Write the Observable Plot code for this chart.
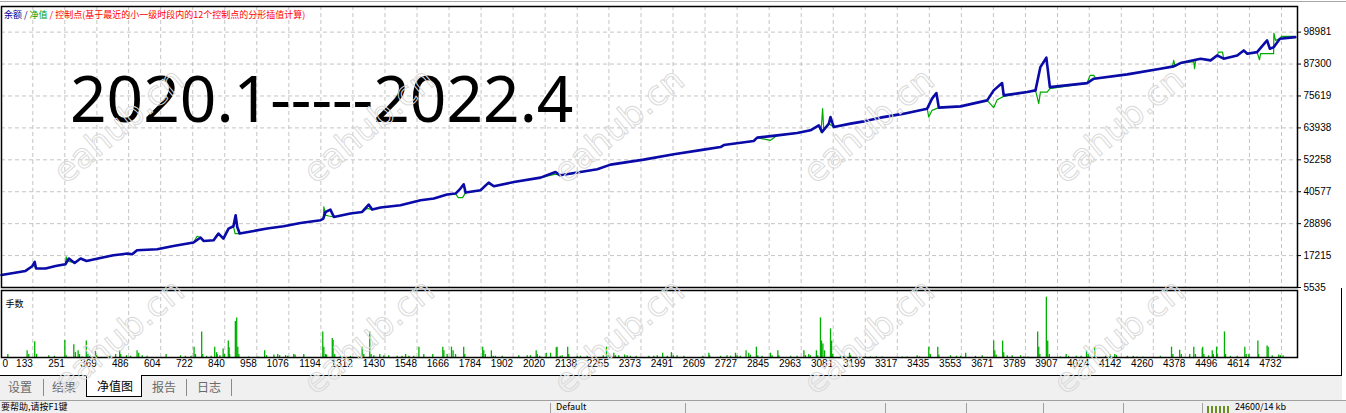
<!DOCTYPE html>
<html><head><meta charset="utf-8">
<script src="https://cdn.jsdelivr.net/npm/d3@7"></script>
<script src="https://cdn.jsdelivr.net/npm/@observablehq/plot@0.6"></script>
<style>
html,body{margin:0;padding:0;background:#fff;width:1346px;height:413px;overflow:hidden;}
#wrap{position:relative;width:1346px;height:413px;font-family:"Liberation Sans",sans-serif;}
.abs{position:absolute;}
#wrap svg{overflow:visible;}
#tabs{left:0;top:375px;width:1342px;height:25px;background:#f0f0f0;border-top:1px solid #000;}
#status{left:0;top:400px;width:1346px;height:13px;background:#f0f0f0;border-top:1px solid #a0a0a0;overflow:hidden;}
.tab{position:absolute;top:2px;font:12px "Noto Sans CJK SC",sans-serif;color:#6a6a6a;line-height:18px;}
.sep{position:absolute;top:3px;width:1px;height:17px;background:#8a8a8a;}
#sel{position:absolute;left:86px;top:-1px;width:54px;height:21px;background:#fff;border:1px solid #000;border-top:none;}
.ssep{position:absolute;top:2px;width:1px;height:11px;background:#a0a0a0;}
.stxt{position:absolute;top:0px;font:9px "Noto Sans CJK SC",sans-serif;color:#000;line-height:12px;white-space:nowrap;}
</style></head>
<body><div id="wrap">
<div id="main" class="abs" style="left:0;top:0"></div>
<div id="lots" class="abs" style="left:0;top:289px"></div>
<div class="abs" style="left:0;top:1px;width:1346px;height:1px;background:#a8a8a8"></div>
<div class="abs" style="left:1341px;top:288px;width:1px;height:88px;background:#000"></div>
<div id="tabs" class="abs">
  <span class="tab" style="left:8px">设置</span>
  <div class="sep" style="left:43px"></div>
  <span class="tab" style="left:52px">结果</span>
  <div id="sel"><span class="tab" style="left:10px;top:2px;color:#000">净值图</span></div>
  <span class="tab" style="left:152px">报告</span>
  <div class="sep" style="left:186px"></div>
  <span class="tab" style="left:197px">日志</span>
  <div class="sep" style="left:231px"></div>
</div>
<div id="status" class="abs">
  <span class="stxt" style="left:1px">要帮助,请按F1键</span>
  <div class="ssep" style="left:550px"></div>
  <span class="stxt" style="left:556px">Default</span>
  <div class="ssep" style="left:685px"></div>
  <div class="ssep" style="left:885px"></div>
  <div class="ssep" style="left:966px"></div>
  <div class="ssep" style="left:1043px"></div>
  <div class="ssep" style="left:1123px"></div>
  <div class="ssep" style="left:1202px"></div>
  <div class="abs" style="left:1207px;top:5px;width:23px;height:8px;background:repeating-linear-gradient(90deg,#6b8e23 0 2px,#f0f0f0 2px 4px)"></div>
  <span class="stxt" style="left:1235px">24600/14 kb</span>
</div>
<svg id="overlay" class="abs" style="left:0;top:0;pointer-events:none" width="1346" height="413"></svg>
</div>
<script>
// ---- tick labels ----
const xTicks = [0,133,251,369,486,604,722,840,958,1076,1194,1312,1430,1548,1666,1784,1902,2020,2138,2255,2373,2491,2609,2727,2845,2963,3081,3199,3317,3435,3553,3671,3789,3907,4024,4142,4260,4378,4496,4614,4732];
const yTicks = [5535,17215,28896,40577,52258,63938,75619,87300,98981];

// ---- balance (余额) ----
const balX = [0,62,106,131,140,145,180,217,253,266,287,309,331,382,430,462,481,499,517,591,651,725,751,762,799,817,835,854,872,880,886,895,947,996,1057,1119,1193,1203,1211,1229,1242,1303,1346,1370,1383,1414,1487,1561,1610,1659,1690,1708,1720,1727,1782,1812,1831,1905,2003,2058,2076,2212,2261,2383,2494,2604,2666,2678,2788,2801,2875,2948,2997,3028,3040,3065,3071,3083,3145,3194,3255,3341,3427,3445,3461,3470,3550,3648,3672,3703,3709,3795,3826,3844,3866,3879,4016,4041,4164,4286,4335,4360,4434,4471,4495,4519,4569,4593,4606,4642,4679,4689,4704,4726,4783];
const balY = [10100,10873,11604,13322,14894,12482,12482,13432,14054,16138,14529,16138,15260,16357,17344,17710,17966,17710,19172,19538,20744,21987,23815,22572,22828,25278,23450,27106,27946,31968,27691,25278,26228,27106,27946,29153,30140,30762,33174,34052,31346,32590,33174,35880,34052,34783,35624,37452,38074,39536,39902,41730,43302,40267,41108,43923,42570,44142,45751,47798,46592,48786,50504,52332,54270,55988,56938,57670,59132,60375,61216,62057,63044,64872,62422,65494,67906,64250,65494,66334,67687,69150,70978,74634,76681,71343,71818,74012,77668,80337,75840,77046,77668,86186,89623,78874,80337,81946,83518,85602,86442,87649,89258,88636,90464,89258,90464,92292,91086,91670,95948,92914,93498,96570,97154];

// ---- equity (净值): [trade, value] ----
const equityPts = [[0,10100],[62,10873],[106,11604],[131,13322],[138,13700],[145,12482],[180,12482],[217,13432],[253,14054],[256,16723],[260,15300],[287,14529],[309,16138],[331,15260],[382,16357],[430,17344],[462,17710],[481,17966],[499,17710],[517,19172],[591,19538],[651,20744],[725,21987],[738,24290],[751,23815],[762,22572],[799,22828],[810,24800],[817,25278],[835,23450],[854,27106],[872,27946],[878,25278],[895,25278],[947,26228],[996,27106],[1057,27946],[1119,29153],[1193,30140],[1203,30762],[1205,35003],[1211,32000],[1223,31712],[1242,31346],[1303,32590],[1346,33174],[1365,34500],[1383,34052],[1414,34783],[1487,35624],[1561,37452],[1610,38074],[1659,39536],[1690,39902],[1700,38437],[1716,38437],[1727,40267],[1782,41108],[1800,43000],[1812,43500],[1831,42570],[1905,44142],[2003,45751],[2058,47000],[2076,46592],[2212,48786],[2261,50504],[2383,52332],[2494,54270],[2604,55988],[2666,56938],[2678,57670],[2788,59132],[2801,60375],[2850,59390],[2875,61216],[2948,62057],[2997,63044],[3028,64872],[3036,62422],[3042,70979],[3046,63500],[3065,65494],[3083,64250],[3145,65494],[3194,66334],[3255,67687],[3341,69150],[3427,70978],[3433,67907],[3445,70356],[3470,71343],[3550,71818],[3648,74012],[3672,71343],[3685,74269],[3709,75474],[3795,77046],[3826,77668],[3838,72801],[3844,77046],[3869,77046],[3879,78290],[4016,80337],[4027,83152],[4041,83152],[4048,81946],[4164,83518],[4286,85602],[4330,86300],[4335,88636],[4340,86442],[4360,87649],[4409,88200],[4412,85602],[4416,88800],[4434,89258],[4471,88636],[4495,90464],[4500,91670],[4515,91670],[4519,89258],[4569,90464],[4593,92292],[4606,91086],[4642,91670],[4651,88893],[4655,91086],[4703,91086],[4704,98617],[4710,95948],[4726,96570],[4732,97410],[4776,97410],[4783,97154]];

// ---- lots (手数): [trade, lots] ----
const lotPts = [[41,.05],[112,.11],[118,.05],[140,.26],[147,.05],[192,.03],[213,.02],[251,.28],[256,.03],[284,.21],[290,.08],[300,.11],[305,.05],[315,.01],[330,.27],[336,.05],[343,.02],[364,.10],[368,.03],[409,.02],[417,.02],[438,.05],[453,.11],[457,.05],[478,.03],[493,.02],[517,.11],[523,.07],[536,.03],[554,.02],[624,.05],[677,.03],[695,.02],[716,.02],[727,.17],[732,.05],[755,.42],[759,.05],[773,.02],[790,.02],[803,.17],[810,.08],[812,.05],[822,.03],[834,.14],[839,.05],[853,.27],[856,.16],[858,.05],[879,.59],[884,.65],[888,.17],[892,.05],[928,.01],[962,.01],[987,.11],[994,.03],[1021,.04],[1035,.05],[1042,.03],[1064,.03],[1072,.02],[1094,.05],[1099,.04],[1131,.05],[1201,.42],[1205,.17],[1211,.05],[1215,.04],[1236,.31],[1239,.28],[1245,.05],[1266,.02],[1303,.02],[1331,.01],[1346,.17],[1352,.05],[1374,.42],[1379,.05],[1389,.03],[1411,.05],[1426,.03],[1444,.03],[1475,.02],[1493,.02],[1506,.05],[1518,.02],[1536,.02],[1555,.17],[1573,.05],[1606,.05],[1643,.17],[1647,.11],[1659,.05],[1675,.17],[1681,.11],[1690,.05],[1720,.17],[1724,.05],[1790,.17],[1794,.11],[1800,.05],[1822,.11],[1829,.02],[1837,.02],[1862,.02],[1923,.03],[1954,.03],[1966,.03],[1987,.11],[1991,.05],[2000,.02],[2024,.07],[2040,.07],[2061,.16],[2064,.17],[2076,.02],[2083,.03],[2103,.17],[2107,.05],[2138,.02],[2150,.02],[2175,.02],[2205,.02],[2234,.03],[2246,.17],[2251,.03],[2273,.07],[2279,.03],[2291,.03],[2313,.04],[2322,.03],[2334,.02],[2355,.02],[2402,.02],[2420,.02],[2433,.03],[2453,.07],[2470,.02],[2485,.08],[2492,.03],[2506,.03],[2531,.02],[2601,.02],[2623,.07],[2626,.03],[2666,.02],[2690,.03],[2703,.02],[2721,.07],[2727,.03],[2739,.02],[2760,.11],[2770,.07],[2776,.04],[2798,.17],[2803,.03],[2819,.02],[2850,.07],[2856,.03],[2877,.11],[2881,.03],[2924,.02],[2948,.02],[2973,.11],[2979,.03],[2991,.05],[2997,.03],[3019,.11],[3024,.03],[3034,.65],[3038,.27],[3043,.22],[3049,.11],[3071,.47],[3075,.27],[3079,.05],[3108,.03],[3120,.02],[3141,.07],[3145,.03],[3200,.01],[3218,.01],[3240,.01],[3261,.01],[3335,.01],[3353,.01],[3390,.03],[3399,.01],[3433,.17],[3439,.05],[3466,.17],[3470,.04],[3513,.03],[3535,.02],[3550,.02],[3569,.07],[3605,.02],[3630,.03],[3672,.27],[3676,.11],[3681,.04],[3705,.27],[3709,.08],[3722,.03],[3740,.03],[3771,.03],[3783,.01],[3798,.01],[3834,.42],[3838,.17],[3842,.05],[3866,.99],[3871,.27],[3877,.05],[3918,.01],[3939,.05],[3948,.02],[3976,.02],[3994,.02],[4014,.11],[4020,.05],[4044,.17],[4084,.02],[4102,.05],[4118,.05],[4124,.03],[4164,.02],[4186,.02],[4200,.01],[4221,.01],[4286,.02],[4327,.17],[4332,.05],[4357,.12],[4363,.05],[4394,.05],[4409,.17],[4415,.05],[4440,.14],[4442,.17],[4446,.05],[4464,.03],[4477,.11],[4481,.05],[4493,.17],[4495,.05],[4522,.42],[4526,.05],[4544,.02],[4569,.02],[4597,.17],[4602,.05],[4612,.05],[4645,.27],[4648,.05],[4679,.19],[4683,.17],[4698,.03],[4722,.04],[4728,.03],[4738,.03]];

// ---- texts ----
const legendParts = [["余额","#00009c"],[" / ","#00009c"],["净值","#00a000"],[" / ","#ff0000"],["控制点(基于最近的小一级时段内的12个控制点的分形插值计算)","#ff0000"]];
const periodText = "2020.1-----2022.4";
const lotsTitle = "手数";
const watermark = "eahub.cn";

// ---- build ----
const balance = balX.map((x, i) => ({x, y: balY[i]}));
const equity = equityPts.map(([x, y]) => ({x, y}));
const lots = lotPts.map(([x, v]) => ({x, v}));
const xDomain = [17.7, 4791];
const GRID = "#c4c4c4", DASH = "4,3";
const axisFont = "Liberation Sans, Arial, sans-serif";

const mainChart = Plot.plot({
  width: 1346, height: 290,
  marginLeft: 1, marginRight: 49, marginTop: 6, marginBottom: 3,
  style: {background: "transparent", overflow: "visible", fontFamily: axisFont, fontSize: "10px", color: "#000"},
  x: {domain: xDomain, clamp: true, axis: null},
  y: {domain: [5535, 108362], axis: "right", ticks: yTicks, tickFormat: d => String(d), tickSize: 3, tickPadding: 3, label: null},
  marks: [
    Plot.ruleX(xTicks.slice(1), {x: d => d, stroke: GRID, strokeDasharray: DASH}),
    Plot.ruleY(yTicks.slice(1), {y: d => d, stroke: GRID, strokeDasharray: DASH}),
    Plot.line(equity, {x: "x", y: "y", stroke: "#00a800", strokeWidth: 1.2}),
    Plot.line(balance, {x: "x", y: "y", stroke: "#0a0aa8", strokeWidth: 2.6}),
    Plot.frame({stroke: "#000", strokeWidth: 1.5})
  ]
});
document.getElementById("main").appendChild(mainChart);

const lotChart = Plot.plot({
  width: 1346, height: 86,
  marginLeft: 1, marginRight: 49, marginTop: 1, marginBottom: 18,
  style: {background: "transparent", overflow: "visible", fontFamily: axisFont, fontSize: "10px", color: "#000"},
  x: {domain: xDomain, clamp: true, axis: null},
  y: {domain: [0, 1.1], axis: null},
  marks: [
    Plot.ruleX(xTicks.slice(1), {x: d => d, stroke: GRID, strokeDasharray: DASH}),
    Plot.ruleX(lots, {x: "x", y: "v", stroke: "#00b000", strokeWidth: 1.3}),
    Plot.frame({stroke: "#000", strokeWidth: 1.5}),
    Plot.text(xTicks.slice(1), {x: d => d, text: d => String(d), frameAnchor: "bottom", textAnchor: "end", dy: 9, dx: 0, fill: "#000", fontSize: 10}),
    Plot.text(xTicks.slice(0, 1), {x: d => d, text: d => String(d), frameAnchor: "bottom", textAnchor: "start", dy: 9, dx: 1, fill: "#000", fontSize: 10}),
    Plot.text([lotsTitle], {text: d => d, frameAnchor: "top-left", textAnchor: "start", dx: 4, dy: 10, fill: "#000", fontSize: 9, fontFamily: "Noto Sans CJK SC"})
  ]
});
document.getElementById("lots").appendChild(lotChart);

// overlay: legend, period text, watermarks
const ov = d3.select("#overlay");
const lg = ov.append("text").attr("x", 4).attr("y", 18)
  .attr("font-family", "Noto Sans CJK SC").attr("font-size", 9);
legendParts.forEach(([t, c]) => lg.append("tspan").attr("fill", c).text(t));
ov.append("text").attr("x", 70).attr("y", 122)
  .attr("font-family", "Noto Sans").attr("font-size", 64).attr("fill", "#000").text(periodText);
const wmCenters = [[120,127],[370,127],[620,127],[870,127],[1120,127],[120,338],[370,338],[620,338],[870,338],[1120,338]];
wmCenters.forEach(([cx, cy]) => {
  ov.append("text").attr("transform", `translate(${cx},${cy}) rotate(-40)`)
    .attr("text-anchor", "middle").attr("dominant-baseline", "middle")
    .attr("font-family", "DejaVu Sans").attr("font-size", 34)
    .attr("fill", "none").attr("stroke", "#dadada").attr("stroke-width", 1)
    .text(watermark);
});
</script>
</body></html>
